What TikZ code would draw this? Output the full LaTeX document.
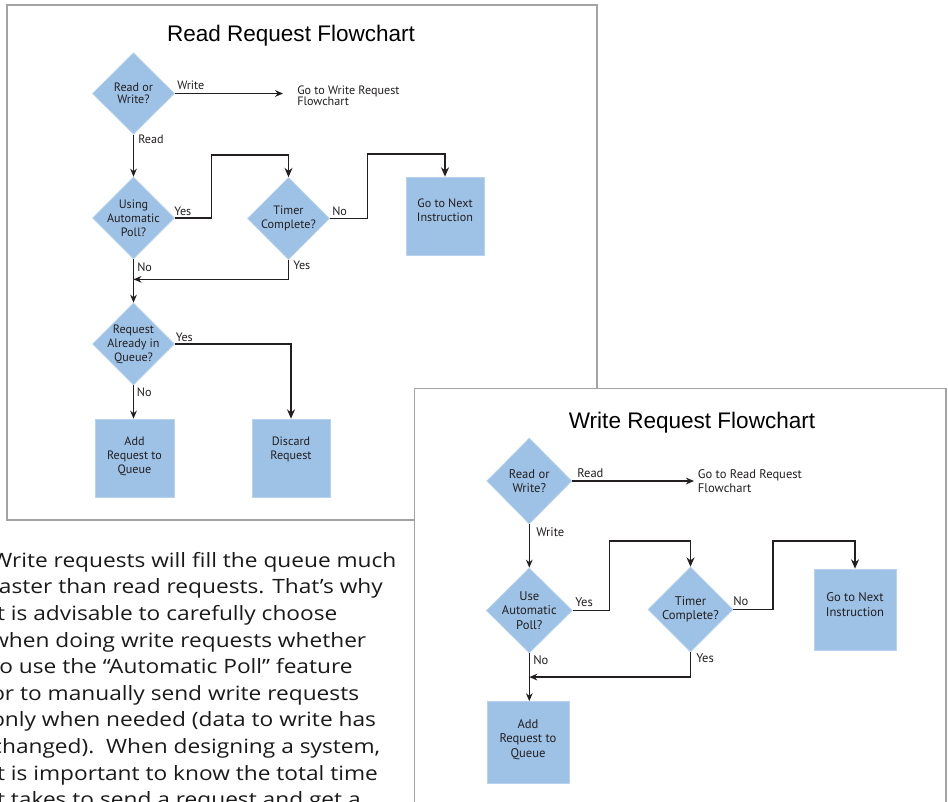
\documentclass[tikz,border=0pt]{standalone}
\usepackage{fontspec}
\setmainfont{Liberation Sans}
\newfontfamily\fcf{PT Sans}
\newfontfamily\parf[FakeStretch=1.15]{Open Sans}
\usetikzlibrary{shapes.geometric,arrows.meta}
\definecolor{fillblue}{HTML}{9DC2E6}
\definecolor{edgeblue}{HTML}{B8D3EE}
\definecolor{ink}{HTML}{231F20}
\definecolor{panelgray}{HTML}{A3A3A3}
\definecolor{partext}{HTML}{1A1A1A}
\begin{document}
\begin{tikzpicture}[x=0.75pt,y=-0.75pt,
  dec/.style={diamond, fill=fillblue, draw=edgeblue, line width=0.5pt, minimum width=61.5pt, minimum height=61.5pt, inner sep=0pt},
  box/.style={rectangle, fill=fillblue, draw=edgeblue, line width=0.5pt, minimum width=58.5pt, minimum height=58.5pt, inner sep=0pt},
  dtxt/.style={font=\fcf\fontsize{9.1}{10.5}\selectfont, align=center, inner sep=0pt, text=ink},
  dtxtb/.style={font=\fcf\fontsize{9.45}{10.7}\selectfont, align=center, inner sep=0pt, text=ink},
  lbl/.style={font=\fcf\fontsize{9.1}{10}\selectfont, inner sep=0pt, anchor=base west, text=ink},
  lblb/.style={font=\fcf\fontsize{9.4}{10}\selectfont, inner sep=0pt, anchor=base west, text=ink},
  gotxt/.style={font=\fcf\fontsize{9.1}{8.25}\selectfont, inner sep=0pt, anchor=north west, align=left, text=ink},
  gotxtb/.style={font=\fcf\fontsize{9.4}{10.5}\selectfont, inner sep=0pt, anchor=north west, align=left, text=ink},
  conn/.style={draw=ink, line width=0.9pt, -{Stealth[length=6pt,width=5pt]}},
  heavy/.style={draw=ink, line width=1.05pt, -{Stealth[length=7pt,width=6pt]}},
  panel/.style={draw=panelgray, line width=1.1pt, fill=white},
  ttl/.style={font=\fontsize{16.9}{20}\selectfont, inner sep=0pt, anchor=base, text=black},
  ptxt/.style={font=\parf\fontsize{14.8}{19}\selectfont, inner sep=0pt, anchor=base west, text=partext}
]
\useasboundingbox (0,0) rectangle (948,801);
\clip (0,0) rectangle (948,801);

% ---------- paragraph ----------
\node[ptxt] (p1) at (-9,567.3) {Write requests will fill the queue much};
\node[ptxt] (p2) at (-9,593.9) {faster than read requests. That’s why};
\node[ptxt] (p3) at (-9,620.5) {it is advisable to carefully choose};
\node[ptxt] (p4) at (-9,647.1) {when doing write requests whether};
\node[ptxt] (p5) at (-9,673.7) {to use the “Automatic Poll” feature};
\node[ptxt] (p6) at (-9,700.3) {or to manually send write requests};
\node[ptxt] (p7) at (-9,726.9) {only when needed (data to write has};
\node[ptxt] (p8) at (-9,753.5) {changed).\ \ When designing a system,};
\node[ptxt] (p9) at (-9,780.1) {it is important to know the total time};
\node[ptxt] (p10) at (-9,806.7) {it takes to send a request and get a};

% ---------- read request panel ----------
\draw[panel] (7,5) rectangle (597,520);
\node[ttl] (t1) at (291,41) {Read Request Flowchart};

\node[dec, minimum height=61pt, label={[dtxt, font=\fcf\fontsize{9.1}{8.8}\selectfont]center:Read or\\Write?}] (d1) at (133.5,93.5) {};
\node[dec, label={[dtxt]center:Using\\Automatic\\Poll?}] (d2) at (133.5,218) {};
\node[dec, label={[dtxt]center:Timer\\Complete?}] (d3) at (288.5,218.5) {};
\node[box, label={[dtxt, anchor=north, yshift=-16.8pt]north:Go to Next\\Instruction}] (nx1) at (445,216) {};
\node[dec, label={[dtxt]center:Request\\Already in\\Queue?}] (d4) at (133.5,344) {};
\node[box, minimum width=59pt, label={[dtxt, anchor=north, yshift=-13.7pt]north:Add\\Request to\\Queue}] (ad1) at (134.5,458) {};
\node[box, label={[dtxt, anchor=north, yshift=-13.7pt]north:Discard\\Request}] (dc1) at (291,458) {};

\coordinate (gw) at (283,93.5);
\node[gotxt] (gwt) at (297,85.4) {Go to Write Request\\Flowchart};
\draw[conn] (d1.east) -- (gw);
\node[lbl] (l1) at (177,89) {Write};

\draw[conn] (d1.south) -- (d2.north);
\node[lbl] (l2) at (138,143) {Read};

\draw[heavy] (d2.east) -- ++(36.5,0) -- ++(0,-63) -| (d3.north);
\node[lbl] (l3) at (174,215) {Yes};

\draw[heavy] (d3.east) -- ++(37.5,0) -- ++(0,-64.5) -| (nx1.north);
\node[lbl] (l4) at (332,215) {No};

\draw[conn] (d3.south) |- ([yshift=-15pt]d2.south);
\node[lbl] (l5) at (293,269) {Yes};

\draw[conn] (d2.south) -- (d4.north);
\node[lbl] (l6) at (137,271) {No};

\draw[heavy] (d4.east) -| (dc1.north);
\node[lbl] (l7) at (175.5,341) {Yes};

\draw[conn] (d4.south) -- (d4.south |- ad1.north);
\node[lbl] (l8) at (136.7,396) {No};

% ---------- write request panel ----------
\draw[panel] (414.3,388.5) rectangle (946,830);
\node[ttl] (t2) at (692,428) {Write Request Flowchart};

\node[dec, minimum width=63.75pt, minimum height=64.5pt, label={[dtxtb]center:Read or\\Write?}] (e1) at (529.3,481) {};
\node[dec, minimum width=64.5pt, minimum height=63.75pt, label={[dtxtb]center:Use\\Automatic\\Poll?}] (e2) at (529.3,610.5) {};
\node[dec, minimum width=63.75pt, minimum height=63.75pt, label={[dtxtb]center:Timer\\Complete?}] (e3) at (690.5,609.5) {};
\node[box, minimum width=61.5pt, minimum height=60.75pt, label={[dtxtb, anchor=north, yshift=-17.9pt]north:Go to Next\\Instruction}] (nx2) at (855,609.5) {};
\node[box, minimum width=61.5pt, minimum height=61.5pt, label={[dtxtb, anchor=north, yshift=-13.7pt]north:Add\\Request to\\Queue}] (ad2) at (528,742.5) {};

\coordinate (gr) at (694,481);
\node[gotxtb] (grt) at (697.7,469.4) {Go to Read Request\\Flowchart};
\draw[conn] (e1.east) -- (gr);
\node[lblb] (m1) at (577,477.7) {Read};

\draw[conn] (e1.south) -- (e2.north);
\node[lblb] (m2) at (536,536.7) {Write};

\draw[heavy] (e2.east) -- ++(37,0) -- ++(0,-69.5) -| (e3.north);
\node[lblb] (m3) at (575,606.7) {Yes};

\draw[heavy] (e3.east) -- ++(39.7,0) -- ++(0,-68.5) -| (nx2.north);
\node[lblb] (m4) at (733,605) {No};

\draw[conn] (e3.south) |- ([yshift=-17.8pt]e2.south);
\node[lblb] (m5) at (696,662) {Yes};

\draw[conn] (e2.south) -- (e2.south |- ad2.north);
\node[lblb] (m6) at (533,664) {No};
\end{tikzpicture}
\end{document}
